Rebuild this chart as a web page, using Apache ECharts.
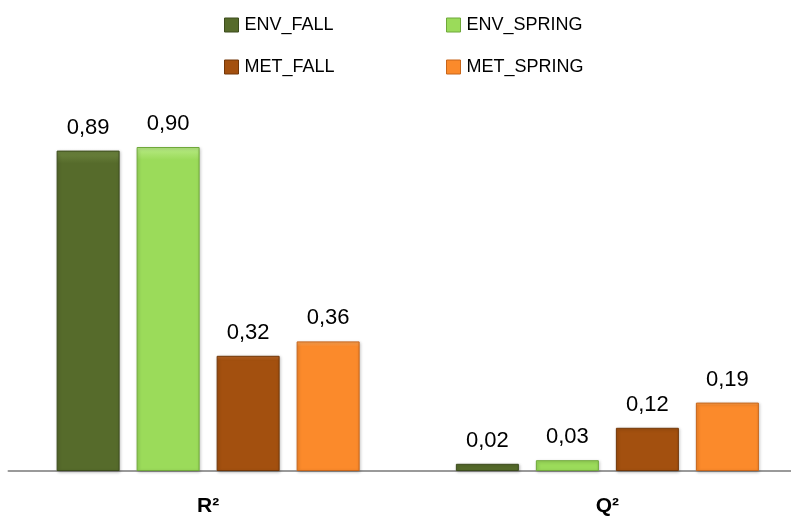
<!DOCTYPE html>
<html>
<head>
<meta charset="utf-8">
<script src="https://cdn.jsdelivr.net/npm/echarts@6/dist/echarts.min.js"></script>
<style>html,body{margin:0;padding:0;background:#fff;overflow:hidden;width:791px;height:520px}#c{width:807px;height:520px}</style>
</head>
<body>
<div id="c"></div>
<script>
const categories = ['R²', 'Q²'];
const seriesNames = ['ENV_FALL', 'ENV_SPRING', 'MET_FALL', 'MET_SPRING'];
const envFall = [0.89, 0.02];
const envSpring = [0.90, 0.03];
const metFall = [0.32, 0.12];
const metSpring = [0.36, 0.19];

const values = [envFall, envSpring, metFall, metSpring];
const fills = ['#566b2b', '#9bdb5a', '#a3500f', '#fb8a2b'];
const edges = ['#3c4c1d', '#6fa83a', '#723708', '#c7651a'];
const lights = ['#6e8640', '#b9eb86', '#c0692a', '#ffa757'];
const legendPos = [[219, 11], [441, 11], [219, 53], [441, 53]];
const FONT = 'Liberation Sans';

const chart = echarts.init(document.getElementById('c'), null, {renderer: 'canvas'});

const series = seriesNames.map((name, i) => ({
  name: name,
  type: 'bar',
  data: values[i],
  barWidth: 63,
  barGap: '27%',
  itemStyle: {
    color: {
      type: 'linear', x: 0, y: 0, x2: 0, y2: 1,
      colorStops: [
        {offset: 0, color: lights[i]},
        {offset: 0.04, color: fills[i]},
        {offset: 1, color: fills[i]}
      ]
    },
    borderColor: edges[i],
    borderWidth: 1,
    shadowColor: 'rgba(0,0,0,0.25)',
    shadowBlur: 3,
    shadowOffsetX: 1,
    shadowOffsetY: 1
  },
  label: {
    show: true,
    position: 'top',
    distance: 12,
    fontFamily: FONT,
    fontSize: 22,
    color: '#000',
    formatter: p => p.value.toFixed(2).replace('.', ',')
  }
}));

const legends = seriesNames.map((name, i) => ({
  data: [{name: name, itemStyle: {color: fills[i], borderColor: edges[i], borderWidth: 1}}],
  left: legendPos[i][0],
  top: legendPos[i][1],
  itemWidth: 14,
  itemHeight: 14,
  icon: 'rect',
  itemGap: 0,
  textStyle: {fontFamily: FONT, fontSize: 18, color: '#000', padding: [0, 0, 0, 1]}
}));

chart.setOption({
  animation: false,
  backgroundColor: '#fff',
  legend: legends,
  grid: {left: 8.5, right: 0, top: 111, bottom: 49, containLabel: false},
  xAxis: {
    type: 'category',
    data: categories,
    axisLine: {lineStyle: {color: '#9a9a9a', width: 2}},
    axisTick: {show: false},
    axisLabel: {margin: 25, fontFamily: FONT, fontSize: 21, fontWeight: 'bold', color: '#000'}
  },
  yAxis: {
    type: 'value', min: 0, max: 1, show: false, splitLine: {show: false}
  },
  series: series
});
</script>
</body>
</html>
